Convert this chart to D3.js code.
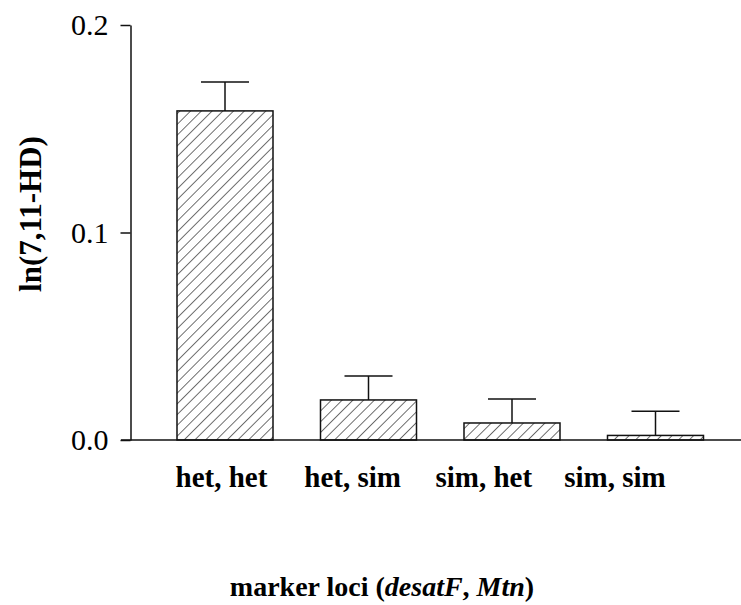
<!DOCTYPE html>
<html>
<head>
<meta charset="utf-8">
<script src="https://cdn.jsdelivr.net/npm/d3@7"></script>
<style>
  body { margin: 0; background: #fff; }
  svg { display: block; }
</style>
</head>
<body>
<div id="chart"></div>
<script>
const categories = ["het, het", "het, sim", "sim, het", "sim, sim"];
const means = [0.1586, 0.0193, 0.0082, 0.0022];
const errors = [0.0139, 0.0115, 0.0116, 0.0116];
const yTicks = [0.0, 0.1, 0.2];

const width = 741;
const height = 605;
const serif = "Liberation Serif, Times New Roman, serif";

const svg = d3.select("#chart")
  .append("svg")
  .attr("width", width)
  .attr("height", height);

// diagonal hatch for the bars
const defs = svg.append("defs");
defs.append("pattern")
  .attr("id", "hatch")
  .attr("patternUnits", "userSpaceOnUse")
  .attr("width", 7.6)
  .attr("height", 7.6)
  .attr("patternTransform", "rotate(45)")
  .append("line")
  .attr("x1", 0).attr("y1", 0)
  .attr("x2", 0).attr("y2", 7.6)
  .attr("stroke", "#222")
  .attr("stroke-width", 1.3);

const x = d3.scaleBand()
  .domain(categories)
  .range([153.25, 727.25])
  .paddingInner(0.331)
  .paddingOuter(0.1655);

// labels sit a bit left of the bars in the original
const xLabel = d3.scalePoint()
  .domain(categories)
  .range([221.5, 615]);

const y = d3.scaleLinear()
  .domain([0, 0.2])
  .range([440, 25]);

const bars = categories.map((c, i) => ({ cat: c, mean: means[i], err: errors[i] }));

svg.selectAll("rect.bar")
  .data(bars)
  .enter()
  .append("rect")
  .attr("class", "bar")
  .attr("x", d => x(d.cat))
  .attr("y", d => y(d.mean))
  .attr("width", x.bandwidth())
  .attr("height", d => y(0) - y(d.mean))
  .attr("fill", "url(#hatch)")
  .attr("stroke", "#111")
  .attr("stroke-width", 1.5);

// error bars (upper only)
const eb = svg.selectAll("g.err")
  .data(bars)
  .enter()
  .append("g")
  .attr("class", "err")
  .attr("stroke", "#111")
  .attr("stroke-width", 1.5);

eb.append("line")
  .attr("x1", d => x(d.cat) + x.bandwidth() / 2)
  .attr("x2", d => x(d.cat) + x.bandwidth() / 2)
  .attr("y1", d => y(d.mean))
  .attr("y2", d => y(d.mean + d.err));

eb.append("line")
  .attr("x1", d => x(d.cat) + x.bandwidth() / 4)
  .attr("x2", d => x(d.cat) + x.bandwidth() * 3 / 4)
  .attr("y1", d => y(d.mean + d.err))
  .attr("y2", d => y(d.mean + d.err));

// y axis
const yAxis = svg.append("g")
  .attr("transform", "translate(130.5,0)")
  .call(d3.axisLeft(y)
    .tickValues(yTicks)
    .tickFormat(d3.format(".1f"))
    .tickSize(10)
    .tickSizeOuter(0)
    .tickPadding(12));

yAxis.selectAll("path, line")
  .attr("stroke", "#111")
  .attr("stroke-width", 1.5);
yAxis.selectAll("text")
  .attr("font-family", serif)
  .attr("font-size", 30)
  .attr("fill", "#000");

// x axis line
svg.append("line")
  .attr("x1", 121)
  .attr("x2", width)
  .attr("y1", y(0))
  .attr("y2", y(0))
  .attr("stroke", "#111")
  .attr("stroke-width", 1.5);

svg.selectAll("text.cat")
  .data(categories)
  .enter()
  .append("text")
  .attr("class", "cat")
  .attr("x", d => xLabel(d))
  .attr("y", 487)
  .attr("text-anchor", "middle")
  .attr("font-family", serif)
  .attr("font-size", 29)
  .attr("font-weight", "bold")
  .text(d => d);

// axis titles
const xt = svg.append("text")
  .attr("x", 382)
  .attr("y", 596)
  .attr("text-anchor", "middle")
  .attr("font-family", serif)
  .attr("font-size", 28)
  .attr("font-weight", "bold");
xt.append("tspan").text("marker loci (");
xt.append("tspan").attr("font-style", "italic").text("desatF");
xt.append("tspan").text(", ");
xt.append("tspan").attr("font-style", "italic").text("Mtn");
xt.append("tspan").text(")");

svg.append("text")
  .attr("transform", "translate(41,214) rotate(-90)")
  .attr("text-anchor", "middle")
  .attr("font-family", serif)
  .attr("font-size", 31)
  .attr("font-weight", "bold")
  .text("ln(7,11-HD)");
</script>
</body>
</html>
